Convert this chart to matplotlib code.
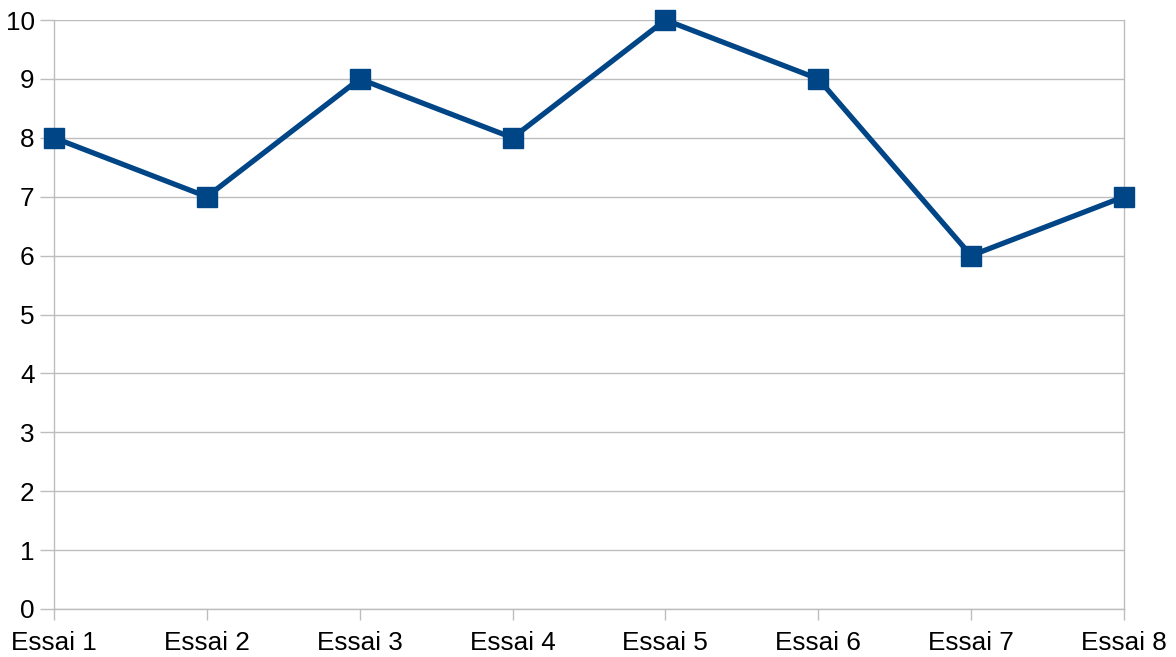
import matplotlib
matplotlib.use("Agg")
import matplotlib.pyplot as plt

categories = ["Essai 1", "Essai 2", "Essai 3", "Essai 4", "Essai 5", "Essai 6", "Essai 7", "Essai 8"]
values = [8, 7, 9, 8, 10, 9, 6, 7]
yticks = list(range(0, 11))

plt.rcParams['font.family'] = ['Liberation Sans', 'DejaVu Sans']

fig = plt.figure(figsize=(11.76, 6.57), dpi=100)
ax = fig.add_axes([54/1176, 48/657, (1124-54)/1176, (609-20)/657])

x = list(range(len(categories)))
ax.plot(x, values, color="#004586", linewidth=3.8, marker="s", markersize=14.5,
        markerfacecolor="#004586", markeredgecolor="#004586", zorder=5, clip_on=False)

ax.set_xlim(0, len(categories) - 1)
ax.set_ylim(0, 10)
ax.set_yticks(yticks)
ax.set_xticks(x)
ax.set_xticklabels(categories)

ax.grid(axis='y', color="#bdbdbd", linewidth=1)
ax.set_axisbelow(True)
ax.spines["top"].set_visible(False)
for side in ["left", "bottom", "right"]:
    ax.spines[side].set_color("#bdbdbd")
    ax.spines[side].set_linewidth(1)

ax.tick_params(axis='both', colors="#bdbdbd", labelcolor="#000000", labelsize=18.8, width=1)
ax.tick_params(axis='y', length=10, pad=4)
ax.tick_params(axis='x', length=8, pad=8)

fig.savefig("out.png", dpi=100)
